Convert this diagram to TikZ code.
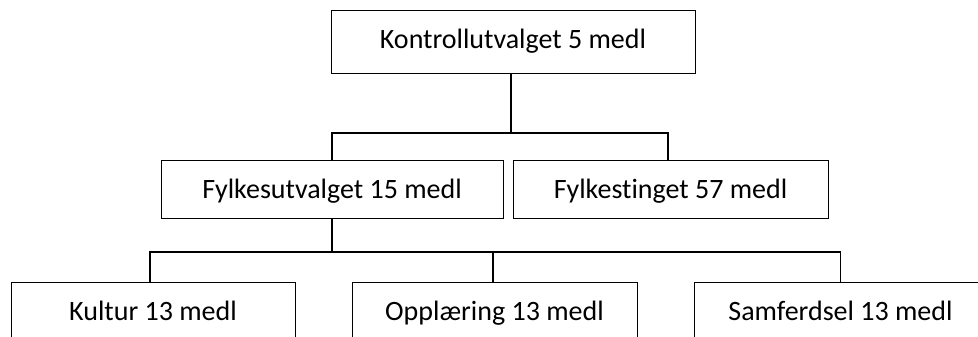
\documentclass[tikz,border=0pt]{standalone}
\usepackage{fontspec}
\setmainfont{Carlito}[Ligatures=CommonOff]
\begin{document}
\begin{tikzpicture}[x=1pt,y=-1pt,
  box/.style={draw=black,line width=1pt,fill=white,inner sep=0pt,minimum height=58pt,
    text height=18pt,text depth=0pt,font=\fontsize{28}{32}\selectfont},
  conn/.style={draw=black,line width=1.4pt}]
\useasboundingbox (0,0) rectangle (978,337);
\fill[white] (0,0) rectangle (978,337);
\node[box,minimum width=364pt,minimum height=63pt,text depth=6pt] (top) at (513,42.5) {Kontrollutvalget 5 medl};
\node[box,minimum width=342pt] (fu) at (332,189) {Fylkesutvalget 15 medl};
\node[box,minimum width=315pt] (ft) at (670.5,189) {Fylkestinget 57 medl};
\node[box,minimum width=284pt] (ku) at (153,311) {Kultur 13 medl};
\node[box,minimum width=285pt] (op) at (494.5,311) {Opplæring 13 medl};
\node[box,minimum width=293pt] (sa) at (840.5,311) {Samferdsel 13 medl};
\coordinate (j1) at (511,133);
\coordinate (j2) at (332,252);
\draw[conn] ([xshift=-2pt]top.south) -- (j1);
\draw[conn] (fu.north) |- (j1) -| ([xshift=-2.5pt]ft.north);
\draw[conn] (fu.south) -- (j2);
\draw[conn] ([xshift=-3pt]ku.north) |- (j2) -| (sa.north);
\draw[conn] ([xshift=-1.5pt]op.north) -- ([xshift=-1.5pt]op.north |- j2);
\end{tikzpicture}
\end{document}
